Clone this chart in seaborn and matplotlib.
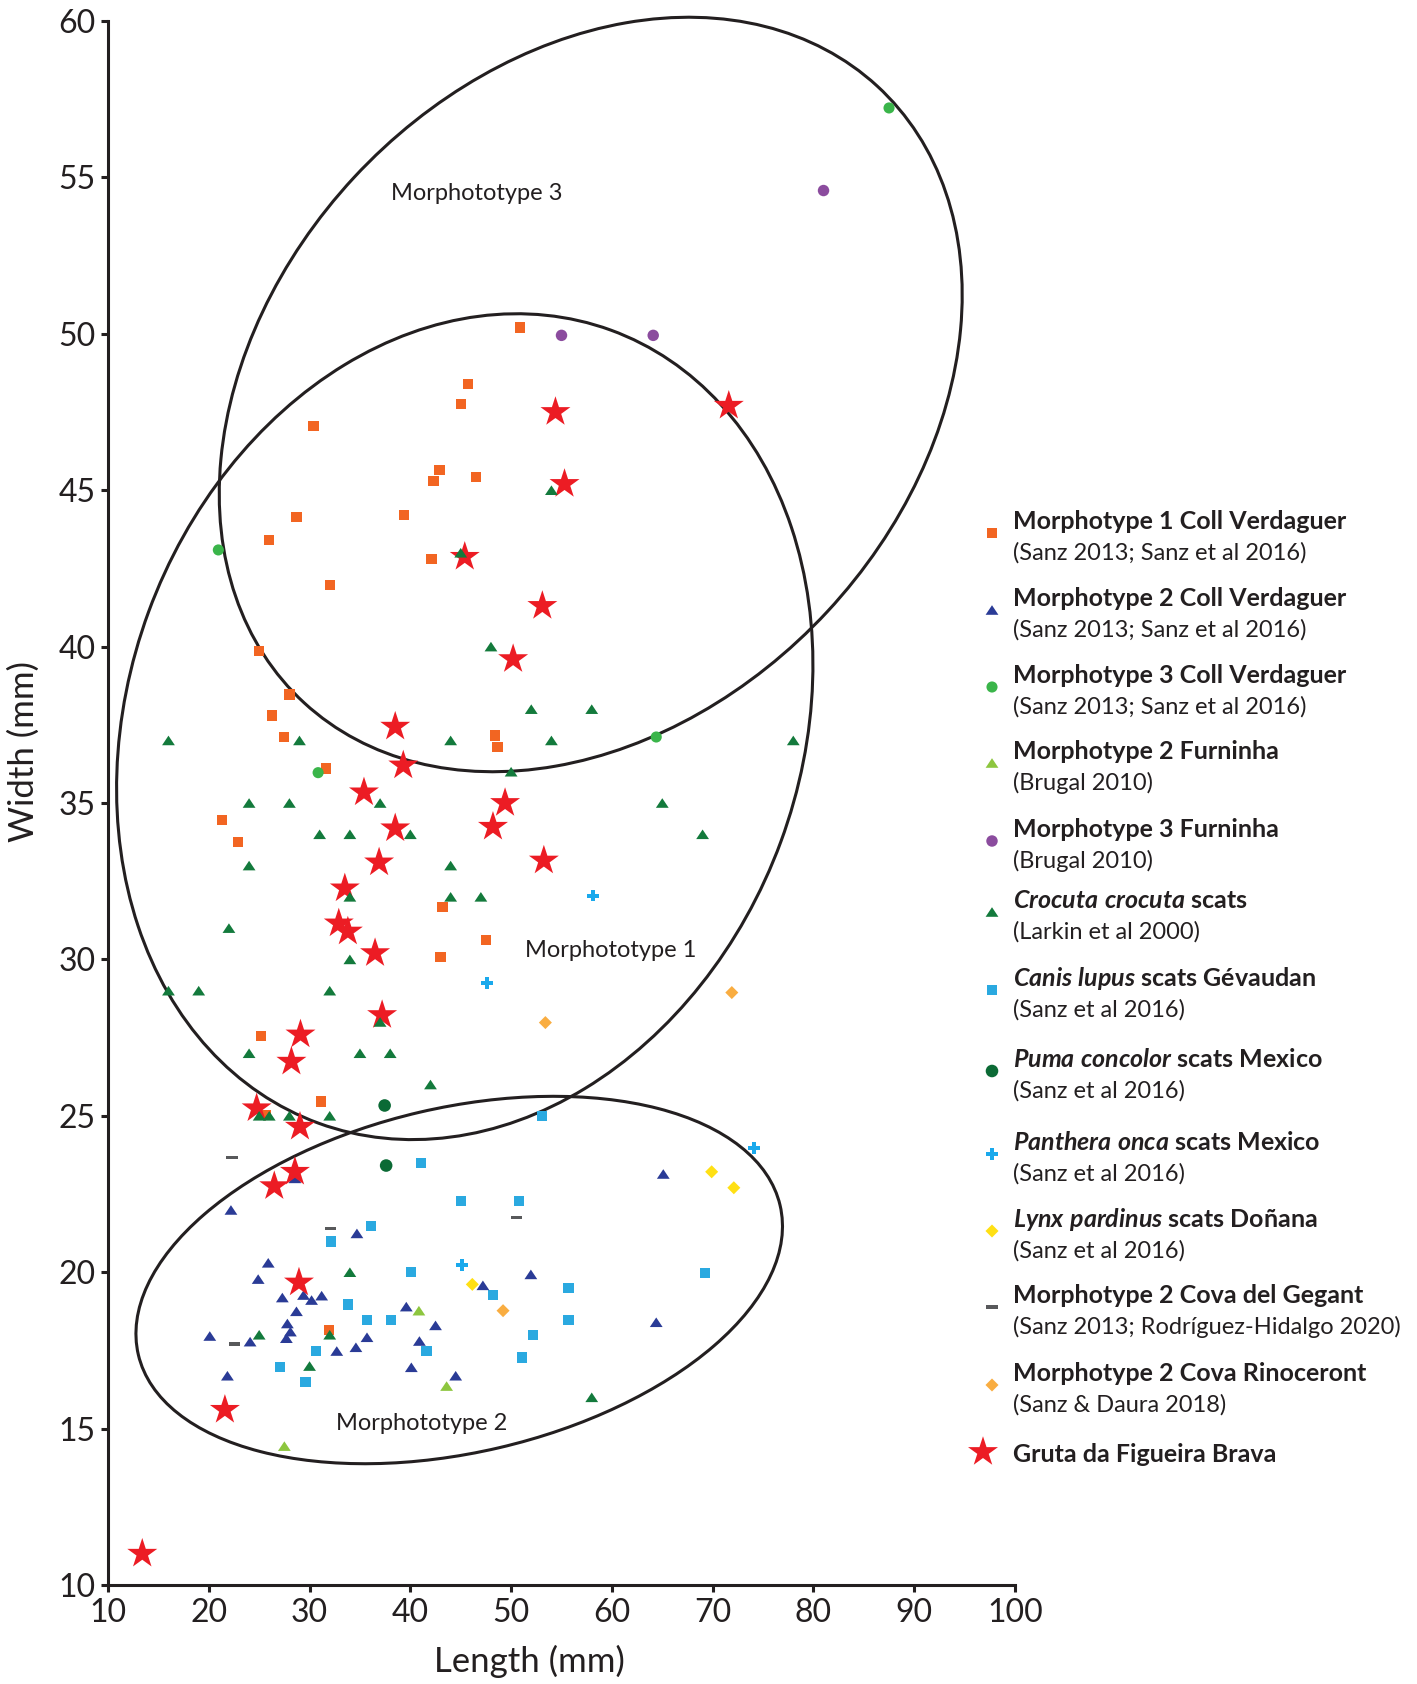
import matplotlib
matplotlib.use('Agg')
import matplotlib.pyplot as plt
from matplotlib.patches import Ellipse
from matplotlib.transforms import Affine2D
import seaborn as sns

# ---- data (length mm, width mm) ----
m1_coll_x = [50.9, 45.7, 45.0, 30.4, 42.9, 42.3, 46.5, 28.7, 39.4, 26.0, 42.1, 32.05, 25.0, 28.0,
             26.3, 27.5, 48.4, 48.65, 31.6, 21.3, 22.9, 43.2, 47.5, 43.0, 25.2, 31.1, 25.7, 31.9]
m1_coll_y = [50.2, 48.4, 47.75, 47.05, 45.65, 45.3, 45.43, 44.15, 44.2, 43.4, 42.8, 41.96, 39.86, 38.47,
             37.8, 37.1, 37.16, 36.8, 36.1, 34.46, 33.76, 31.67, 30.62, 30.07, 27.54, 25.46, 25.02, 18.15]

m2_coll_x = [28.55, 22.2, 34.7, 25.9, 24.9, 51.96, 47.2, 27.3, 30.2, 31.2, 29.4, 28.7, 27.8, 28.1,
             27.7, 20.1, 24.1, 39.6, 42.5, 35.7, 34.6, 32.7, 40.9, 40.1, 44.5, 21.85, 64.4, 65.1]
m2_coll_y = [23.0, 21.99, 21.24, 20.3, 19.78, 19.93, 19.58, 19.19, 19.11, 19.25, 19.27, 18.75, 18.36, 18.1,
             17.89, 17.96, 17.78, 18.9, 18.3, 17.92, 17.6, 17.48, 17.8, 16.96, 16.69, 16.69, 18.4, 23.14]

m3_coll_x = [87.5, 20.95, 30.85, 64.4]
m3_coll_y = [57.22, 43.09, 35.97, 37.11]

m2_furn_x = [40.85, 43.6, 27.5]
m2_furn_y = [18.77, 16.36, 14.44]

m3_furn_x = [81.0, 55.0, 64.1]
m3_furn_y = [54.58, 49.95, 49.95]

crocuta_x = [54, 45, 48, 52, 58, 16, 29, 44, 54, 78, 50, 24, 28, 37, 65, 31, 34, 40, 69, 24, 44,
             34, 44, 47, 22, 34, 16, 19, 32, 37, 24, 35, 38, 42, 25, 26, 28, 32, 34, 25, 32, 30, 58]
crocuta_y = [45, 43, 40, 38, 38, 37, 37, 37, 37, 37, 36, 35, 35, 35, 35, 34, 34, 34, 34, 33, 33,
             32, 32, 32, 31, 30, 29, 29, 29, 28, 27, 27, 27, 26, 25, 25, 25, 25, 20, 18, 18, 17, 16]

canis_x = [53.1, 41.05, 45.0, 50.8, 36.1, 32.1, 40.1, 69.2, 55.7, 48.2, 33.8, 35.7, 38.1, 55.7,
           52.2, 30.65, 41.6, 51.1, 27.1, 29.6]
canis_y = [24.99, 23.48, 22.28, 22.28, 21.48, 20.98, 20.0, 19.98, 19.5, 19.27, 18.97, 18.47, 18.47, 18.47,
           17.98, 17.48, 17.48, 17.27, 16.96, 16.48]

puma_x = [37.45, 37.6]
puma_y = [25.33, 23.41]

panthera_x = [58.15, 47.6, 45.1, 74.1]
panthera_y = [32.04, 29.24, 20.22, 23.97]

lynx_x = [69.9, 72.1, 46.15]
lynx_y = [23.21, 22.7, 19.61]

gegant_x = [22.3, 32.1, 50.5, 22.55]
gegant_y = [23.67, 21.39, 21.75, 17.7]

rinoceront_x = [53.4, 71.9, 49.2]
rinoceront_y = [27.98, 28.94, 18.77]

figueira_x = [54.4, 71.6, 55.3, 45.4, 53.1, 50.2, 38.5, 39.3, 35.4, 49.4, 48.2, 38.5, 36.9, 53.25,
              33.5, 32.9, 33.8, 36.5, 37.2, 29.1, 28.2, 24.75, 29.05, 28.55, 26.5, 28.95, 21.6, 13.4]
figueira_y = [47.5, 47.7, 45.2, 42.87, 41.3, 39.6, 37.44, 36.2, 35.34, 35.0, 34.24, 34.19, 33.1, 33.16,
              32.27, 31.15, 30.89, 30.2, 28.22, 27.6, 26.73, 25.24, 24.65, 23.21, 22.75, 19.67, 15.6, 11.0]

# ellipses: centre (x, y), width, height, angle (in x-mm units)
ellipse_names = ['Morphototype 3', 'Morphototype 1', 'Morphototype 2']
ellipse_centres = [(57.9, 48.06), (45.4, 37.44), (44.85, 19.75)]
ellipse_sizes = [(83.8, 63.9), (84.3, 66.8), (65.4, 34.4)]
ellipse_angles = [47.3, 69.9, 13.2]
label_pos = [(46.6, 54.5), (59.9, 30.3), (41.1, 15.15)]

SQUARE = [(-1, -1), (1, -1), (1, 1), (-1, 1)]
TRI = [(-1, -0.75), (1, -0.75), (0, 0.75)]
DIAMOND = [(0, 1), (1, 0), (0, -1), (-1, 0)]
DASH = [(-1, -0.32), (1, -0.32), (1, 0.32), (-1, 0.32)]

# draw order: x, y, colour, marker, size
groups = [
    (m1_coll_x, m1_coll_y, '#f26522', SQUARE, 54),
    (canis_x, canis_y, '#2aa9e0', SQUARE, 54),
    (gegant_x, gegant_y, '#58595b', DASH, 64),
    (m2_furn_x, m2_furn_y, '#8dc63f', TRI, 85),
    (m3_coll_x, m3_coll_y, '#3ab54a', 'o', 64),
    (m3_furn_x, m3_furn_y, '#8b4c9e', 'o', 68),
    (puma_x, puma_y, '#0b6a35', 'o', 82),
    (panthera_x, panthera_y, '#1aa9ec', 'P', 72),
    (lynx_x, lynx_y, '#ffe014', DIAMOND, 88),
    (rinoceront_x, rinoceront_y, '#f9ad41', DIAMOND, 88),
    (m2_coll_x, m2_coll_y, '#2a3b96', TRI, 85),
    (figueira_x, figueira_y, '#ec1c24', '*', 515),
    (crocuta_x, crocuta_y, '#137a3c', TRI, 85),
]

legend_entries = [
    ('Morphotype 1 Coll Verdaguer', '(Sanz 2013; Sanz et al 2016)', '#f26522', SQUARE, 54),
    ('Morphotype 2 Coll Verdaguer', '(Sanz 2013; Sanz et al 2016)', '#2a3b96', TRI, 85),
    ('Morphotype 3 Coll Verdaguer', '(Sanz 2013; Sanz et al 2016)', '#3ab54a', 'o', 64),
    ('Morphotype 2 Furninha', '(Brugal 2010)', '#8dc63f', TRI, 85),
    ('Morphotype 3 Furninha', '(Brugal 2010)', '#8b4c9e', 'o', 68),
    (r'$\mathbfit{Crocuta\ crocuta}$ scats', '(Larkin et al 2000)', '#137a3c', TRI, 85),
    (r'$\mathbfit{Canis\ lupus}$ scats Gévaudan', '(Sanz et al 2016)', '#2aa9e0', SQUARE, 54),
    (r'$\mathbfit{Puma\ concolor}$ scats Mexico', '(Sanz et al 2016)', '#0b6a35', 'o', 82),
    (r'$\mathbfit{Panthera\ onca}$ scats Mexico', '(Sanz et al 2016)', '#1aa9ec', 'P', 72),
    (r'$\mathbfit{Lynx\ pardinus}$ scats Doñana', '(Sanz et al 2016)', '#ffe014', DIAMOND, 88),
    ('Morphotype 2 Cova del Gegant', '(Sanz 2013; Rodríguez-Hidalgo 2020)', '#58595b', DASH, 64),
    ('Morphotype 2 Cova Rinoceront', '(Sanz & Daura 2018)', '#f9ad41', DIAMOND, 88),
    ('Gruta da Figueira Brava', None, '#ec1c24', '*', 515),
]

sns.set_style('ticks')
plt.rcParams['font.family'] = ['Lato', 'DejaVu Sans']
plt.rcParams['mathtext.fontset'] = 'custom'
plt.rcParams['mathtext.rm'] = 'Lato'
plt.rcParams['mathtext.it'] = 'Lato:italic'
plt.rcParams['mathtext.bf'] = 'Lato:bold'
if 'mathtext.bfit' in plt.rcParams:
    plt.rcParams['mathtext.bfit'] = 'Lato:italic:bold'

INK = '#231f20'
W, H = 1417, 1684

fig = plt.figure(figsize=(W / 100, H / 100), dpi=100)
ax = fig.add_axes([108 / W, 1 - 1585 / H, 907 / W, 1564 / H])

for gx, gy, col, mk, sz in groups:
    sns.scatterplot(x=gx, y=gy, ax=ax, color=col, marker=mk, s=sz,
                    edgecolor='none', linewidth=0, legend=False, zorder=3)

# ellipses drawn in a frame where x and y units look alike on screen
K = 3.122
ell_tf = Affine2D().scale(1, 1 / K) + ax.transData
for (cx, cy), (ew, eh), ang in zip(ellipse_centres, ellipse_sizes, ellipse_angles):
    ax.add_patch(Ellipse((cx, cy * K), ew, eh, angle=ang, fill=False, clip_on=False,
                         edgecolor=INK, linewidth=2.2, transform=ell_tf, zorder=2))

for name, (tx, ty) in zip(ellipse_names, label_pos):
    ax.text(tx, ty, name, fontsize=17, color=INK, ha='center', va='center', zorder=4)

ax.set_xlim(10, 100)
ax.set_ylim(10, 60)
ax.set_xticks(range(10, 101, 10))
ax.set_yticks(range(10, 61, 5))
sns.despine(ax=ax)
for side in ['left', 'bottom']:
    ax.spines[side].set_linewidth(2.2)
    ax.spines[side].set_color(INK)
ax.tick_params(direction='out', length=5, width=2.2, color=INK,
               labelsize=23, labelcolor=INK, pad=4)
ax.set_xlabel('Length (mm)', fontsize=25, color=INK)
ax.set_ylabel('Width (mm)', fontsize=25, color=INK)
ax.xaxis.set_label_coords(0.465, -0.038)
ax.yaxis.set_label_coords(-0.075, 0.533)


def fx(px):
    return px / W


def fy(py):
    return 1 - py / H


# legend drawn by hand: bold first line, reference on second line
base_px = [529, 606, 683, 759, 837, 908, 986, 1067, 1150, 1227, 1303, 1381, 1462]
for (l1, l2, col, mk, sz), b in zip(legend_entries, base_px):
    if l2 is None:
        ax.scatter([fx(983)], [fy(b - 10)], transform=fig.transFigure, marker=mk, s=sz,
                   color=col, edgecolor='none', clip_on=False)
    else:
        ax.scatter([fx(992)], [fy(b + 4)], transform=fig.transFigure, marker=mk, s=sz,
                   color=col, edgecolor='none', clip_on=False)
        fig.text(fx(1013), fy(b + 31), l2, fontsize=17, color=INK, va='baseline', ha='left')
    fig.text(fx(1013), fy(b), l1, fontsize=18, fontweight='bold', color=INK,
             va='baseline', ha='left')

fig.savefig('out.png', dpi=100)
